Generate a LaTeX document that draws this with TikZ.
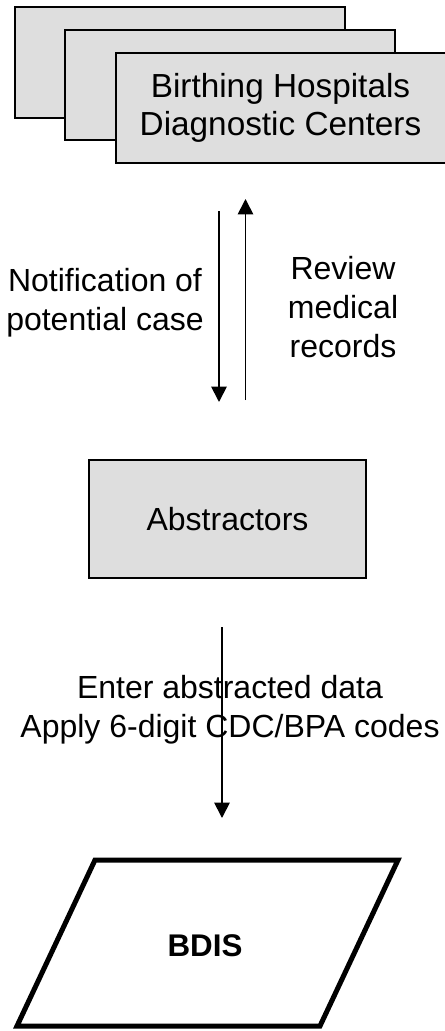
\documentclass[tikz,border=0pt]{standalone}
\usepackage{fontspec}
\setmainfont{Liberation Sans}
\usetikzlibrary{arrows.meta}

\begin{document}
\begin{tikzpicture}[x=0.75pt,y=-0.75pt,
    font=\fontsize{24}{29}\selectfont,
    sheet/.style={draw,line width=1.5pt,fill=black!13,minimum width=247.5pt,minimum height=83pt,inner sep=0pt},
    plainbox/.style={draw,line width=1.5pt,fill=black!13,minimum width=207.5pt,minimum height=88.5pt},
    flow/.style={line width=1.3pt,-{Triangle[width=11.5pt,length=11.5pt]}},
    lbl/.style={align=center,inner sep=0pt}]
    \useasboundingbox (0,0) rectangle (445,1031);

    \node[sheet] (S1) at (179.5, 62.5) {};
    \node[sheet] (S2) at (230, 85) {};
    \node[sheet,align=center,font=\fontsize{25}{29}\selectfont] (H) at (280.5, 108) {Birthing Hospitals\\Diagnostic Centers};

    \node[plainbox] (ABS) at (227.5, 519) {Abstractors};

    \coordinate (D1) at (219, 211);
    \coordinate (D2) at (219, 402);
    \coordinate (U1) at (245.5, 400);
    \coordinate (U2) at (245.5, 199);
    \coordinate (E1) at (222, 627);
    \coordinate (E2) at (222, 818);

    \draw[flow] (D1) -- (D2);
    \draw[flow] (U1) -- (U2);
    \draw[flow] (E1) -- (E2);

    \node[lbl] (NOT) at (105, 303) {Notification of\\potential case};
    \node[lbl] (REV) at (343, 307) {Review\\medical\\records};
    \node[lbl] (ENT) at (230, 710) {Enter abstracted data\\Apply 6-digit CDC/BPA codes};

    \coordinate (P1) at (95, 860);
    \coordinate (P2) at (398, 860);
    \coordinate (P3) at (320, 1026);
    \coordinate (P4) at (17, 1026);
    \draw[line width=3.75pt,line join=miter] (P1) -- (P2) -- (P3) -- (P4) -- cycle;
    \node[lbl,font=\fontsize{23.5}{28}\selectfont\bfseries] (BDIS) at (205, 946) {BDIS};
\end{tikzpicture}
\end{document}
